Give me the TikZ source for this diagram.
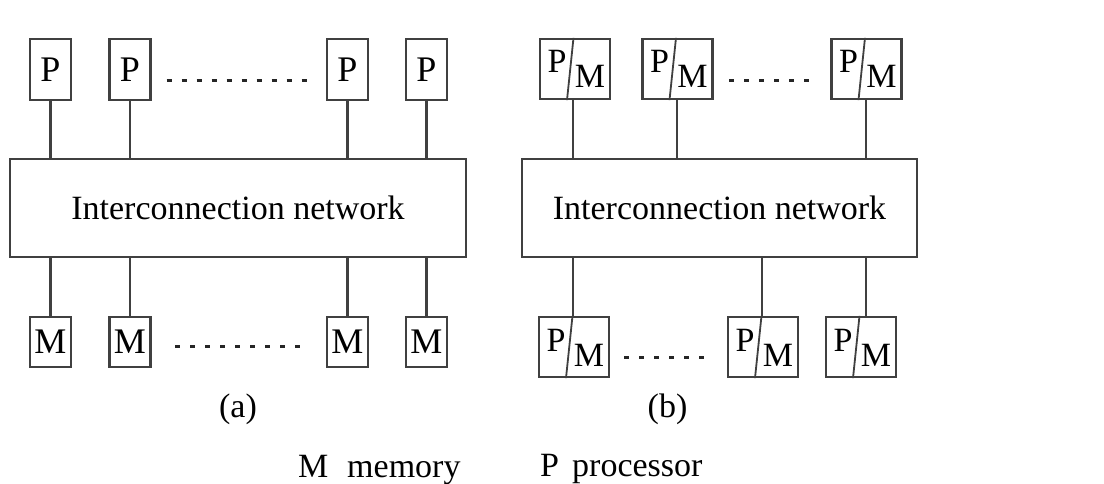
\documentclass[tikz,border=0pt]{standalone}
\usepackage{fontspec}
\setmainfont{Liberation Serif}
\definecolor{linecol}{gray}{0.25}
\tikzset{
  box/.style={draw=linecol, line width=2.3pt, inner sep=0pt, minimum width=41pt, font=\fontsize{36}{40}\selectfont},
  pbox/.style={box, minimum height=61pt},
  mbox/.style={box, minimum height=50pt},
  pmbox/.style={draw=linecol, line width=2.3pt, inner sep=0pt, minimum width=70pt, minimum height=60pt},
  net/.style={draw=linecol, line width=2.3pt, inner sep=0pt, minimum height=98pt},
  link/.style={draw=linecol, line width=2.3pt},
  divider/.style={draw=linecol, line width=1.8pt},
  dots/.style={draw=black!85, line width=3pt, dash pattern=on 5pt off 10pt},
  lbl/.style={inner sep=0pt}
}
\newcommand\pmnode[3]{%
  \node[pmbox] (#1) at (#2,#3) {};
  \draw[divider] ([xshift=-1.5pt]#1.north) -- ([xshift=-8pt]#1.south);
  \node[lbl, anchor=base] (#1-p) at ([shift={(-18,4)}]#1.center) {P};
  \node[lbl, anchor=base] (#1-m) at ([shift={(15,19)}]#1.center) {M};
}
\begin{document}
\begin{tikzpicture}[x=1pt, y=-1pt, every node/.append style={font=\fontsize{34}{40}\selectfont}]
\useasboundingbox (0,0) rectangle (1104,484);
% ---------------- (a) ----------------
\node[net, minimum width=456pt] (net1) at (238,208) {Interconnection network};
\node[pbox] (pa1) at (50.5,69.5) {P};
\node[pbox] (pa2) at (130,69.5) {P};
\node[pbox] (pa3) at (347.5,69.5) {P};
\node[pbox] (pa4) at (426.5,69.5) {P};
\node[mbox] (ma1) at (50.5,342) {M};
\node[mbox] (ma2) at (130,342) {M};
\node[mbox] (ma3) at (347.5,342) {M};
\node[mbox] (ma4) at (426.5,342) {M};
\foreach \n in {pa1,pa2,pa3,pa4}{\draw[link] (\n.south) -- (\n.south |- net1.north);}
\foreach \n in {ma1,ma2,ma3,ma4}{\draw[link] (\n.north) -- (\n.north |- net1.south);}
\draw[dots] ([shift={(15,11.5)}]pa2.east) -- ([shift={(-17,11.5)}]pa3.west);
\draw[dots] ([shift={(23.5,4)}]ma2.east) -- ([shift={(-24,4)}]ma3.west);
\node[lbl, anchor=base] (capa) at (238,417) {(a)};
% ---------------- (b) ----------------
\node[net, minimum width=395pt] (net2) at (719.5,208) {Interconnection network};
\pmnode{tb1}{575}{69}
\pmnode{tb2}{677.5}{69}
\pmnode{tb3}{866.5}{69}
\pmnode{bb1}{574}{347}
\pmnode{bb2}{763}{347}
\pmnode{bb3}{861}{347}
\draw[link] ([xshift=-2pt]tb1.south) -- ([xshift=-2pt]tb1.south |- net2.north);
\draw[link] ([xshift=-0.5pt]tb2.south) -- ([xshift=-0.5pt]tb2.south |- net2.north);
\draw[link] ([xshift=-0.5pt]tb3.south) -- ([xshift=-0.5pt]tb3.south |- net2.north);
\draw[link] ([xshift=-1pt]bb1.north) -- ([xshift=-1pt]bb1.north |- net2.south);
\draw[link] ([xshift=-1pt]bb2.north) -- ([xshift=-1pt]bb2.north |- net2.south);
\draw[link] ([xshift=5pt]bb3.north) -- ([xshift=5pt]bb3.north |- net2.south);
\draw[dots] ([shift={(15.5,12)}]tb2.east) -- ([shift={(-16.5,12)}]tb3.west);
\draw[dots] ([shift={(14,10)}]bb1.east) -- ([shift={(-15,10)}]bb2.west);
\node[lbl, anchor=base] (capb) at (667.5,417) {(b)};
% ---------------- legend ----------------
\node[lbl, anchor=base west] (legm) at (298,477) {M};
\node[lbl, anchor=base west] (legmt) at (347,477) {memory};
\node[lbl, anchor=base west] (legp) at (540,476) {P};
\node[lbl, anchor=base west] (legpt) at (572,476) {processor};
\end{tikzpicture}
\end{document}
